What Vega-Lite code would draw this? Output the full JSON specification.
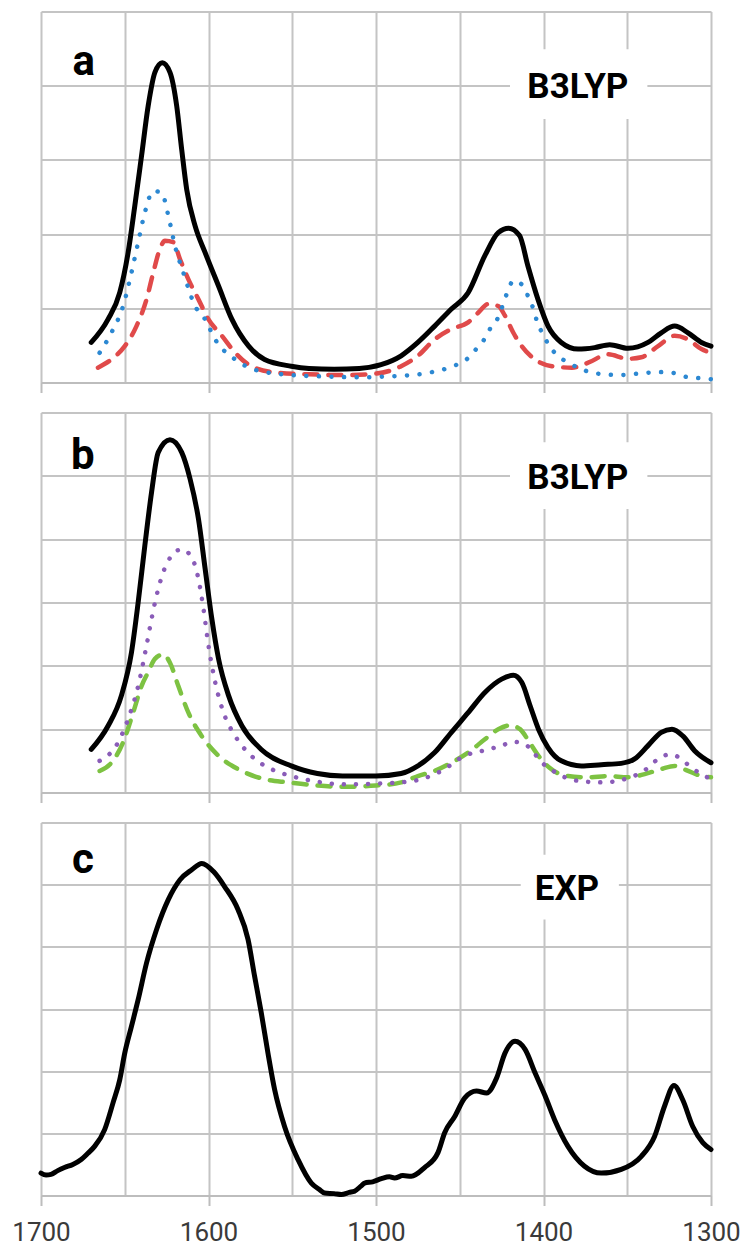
{
  "$schema": "https://vega.github.io/schema/vega-lite/v6.json",
  "background": "white",
  "padding": {"left": 11, "top": 11.5, "right": 0, "bottom": 0},
  "autosize": {"type": "pad"},
  "spacing": 30,
  "bounds": "flush",
  "config": {
    "view": {"stroke": null},
    "axis": {
      "gridColor": "#c4c4c4", "gridWidth": 2,
      "domainColor": "#bdbdbd", "domainWidth": 2,
      "tickColor": "#bdbdbd", "tickWidth": 2, "tickSize": 10,
      "title": null,
      "labelFont": "Roboto", "labelFontSize": 26, "labelColor": "#3a3a3a"
    },
    "text": {"font": "Roboto"}
  },
  "datasets": {
    "boxes": [
      {"panel": "a", "x": 1420, "x2": 1338, "y": 3.55, "y2": 4.49},
      {"panel": "b", "x": 1420, "x2": 1338, "y": 4.475, "y2": 5.53},
      {"panel": "c", "x": 1413.6, "x2": 1355, "y": 4.44, "y2": 5.48}
    ],
    "labels": [
      {"panel": "a", "kind": "letter", "x": 1674.5, "y": 4.15, "text": "a"},
      {"panel": "a", "kind": "method", "x": 1379.5, "y": 3.83, "text": "B3LYP"},
      {"panel": "b", "kind": "letter", "x": 1675, "y": 5.11, "text": "b"},
      {"panel": "b", "kind": "method", "x": 1379.5, "y": 4.79, "text": "B3LYP"},
      {"panel": "c", "kind": "letter", "x": 1675, "y": 5.19, "text": "c"},
      {"panel": "c", "kind": "method", "x": 1386, "y": 4.76, "text": "EXP"}
    ],
    "spec_a": [
      {"s": "total", "x": 1670, "y": 0.54}, {"s": "total", "x": 1660, "y": 0.85}, {"s": "total", "x": 1653, "y": 1.21},
      {"s": "total", "x": 1648, "y": 1.75}, {"s": "total", "x": 1644, "y": 2.38}, {"s": "total", "x": 1640, "y": 3.05},
      {"s": "total", "x": 1636, "y": 3.73}, {"s": "total", "x": 1632, "y": 4.18}, {"s": "total", "x": 1627.6, "y": 4.31},
      {"s": "total", "x": 1623, "y": 4.18}, {"s": "total", "x": 1619, "y": 3.73}, {"s": "total", "x": 1616, "y": 3.14},
      {"s": "total", "x": 1613, "y": 2.6}, {"s": "total", "x": 1608, "y": 2.11}, {"s": "total", "x": 1602, "y": 1.75},
      {"s": "total", "x": 1594, "y": 1.3}, {"s": "total", "x": 1586, "y": 0.85}, {"s": "total", "x": 1576, "y": 0.49},
      {"s": "total", "x": 1566.5, "y": 0.31}, {"s": "total", "x": 1550.6, "y": 0.22}, {"s": "total", "x": 1540, "y": 0.19},
      {"s": "total", "x": 1525, "y": 0.18}, {"s": "total", "x": 1510, "y": 0.19}, {"s": "total", "x": 1497, "y": 0.24},
      {"s": "total", "x": 1485, "y": 0.36}, {"s": "total", "x": 1475, "y": 0.54}, {"s": "total", "x": 1465, "y": 0.76},
      {"s": "total", "x": 1455, "y": 0.99}, {"s": "total", "x": 1445, "y": 1.21}, {"s": "total", "x": 1435, "y": 1.71},
      {"s": "total", "x": 1427, "y": 2.02}, {"s": "total", "x": 1420.8, "y": 2.08}, {"s": "total", "x": 1414.3, "y": 1.98},
      {"s": "total", "x": 1409.3, "y": 1.57}, {"s": "total", "x": 1403.3, "y": 1.12}, {"s": "total", "x": 1397.3, "y": 0.76},
      {"s": "total", "x": 1389.4, "y": 0.54}, {"s": "total", "x": 1379.4, "y": 0.45}, {"s": "total", "x": 1369.5, "y": 0.47},
      {"s": "total", "x": 1360.5, "y": 0.51}, {"s": "total", "x": 1349.6, "y": 0.46}, {"s": "total", "x": 1337.6, "y": 0.54},
      {"s": "total", "x": 1329.7, "y": 0.67}, {"s": "total", "x": 1321.7, "y": 0.76}, {"s": "total", "x": 1313.7, "y": 0.67},
      {"s": "total", "x": 1305.7, "y": 0.54}, {"s": "total", "x": 1300, "y": 0.49},

      {"s": "blue", "x": 1665, "y": 0.4}, {"s": "blue", "x": 1658, "y": 0.67}, {"s": "blue", "x": 1651, "y": 1.03},
      {"s": "blue", "x": 1646, "y": 1.48}, {"s": "blue", "x": 1642, "y": 1.89}, {"s": "blue", "x": 1638, "y": 2.29},
      {"s": "blue", "x": 1633, "y": 2.58}, {"s": "blue", "x": 1628, "y": 2.56}, {"s": "blue", "x": 1624, "y": 2.25},
      {"s": "blue", "x": 1620, "y": 1.84}, {"s": "blue", "x": 1615, "y": 1.48}, {"s": "blue", "x": 1608, "y": 1.03},
      {"s": "blue", "x": 1602, "y": 0.85}, {"s": "blue", "x": 1596, "y": 0.58}, {"s": "blue", "x": 1584, "y": 0.31},
      {"s": "blue", "x": 1570.5, "y": 0.16}, {"s": "blue", "x": 1550, "y": 0.1}, {"s": "blue", "x": 1530, "y": 0.08},
      {"s": "blue", "x": 1510, "y": 0.07}, {"s": "blue", "x": 1495, "y": 0.08}, {"s": "blue", "x": 1485, "y": 0.09},
      {"s": "blue", "x": 1469, "y": 0.13}, {"s": "blue", "x": 1454, "y": 0.22}, {"s": "blue", "x": 1446, "y": 0.31},
      {"s": "blue", "x": 1441, "y": 0.43}, {"s": "blue", "x": 1436, "y": 0.56}, {"s": "blue", "x": 1432, "y": 0.72},
      {"s": "blue", "x": 1427, "y": 0.88}, {"s": "blue", "x": 1422, "y": 1.19}, {"s": "blue", "x": 1418, "y": 1.37},
      {"s": "blue", "x": 1412, "y": 1.3}, {"s": "blue", "x": 1409, "y": 1.15}, {"s": "blue", "x": 1406, "y": 0.99},
      {"s": "blue", "x": 1403.7, "y": 0.81}, {"s": "blue", "x": 1400.3, "y": 0.65}, {"s": "blue", "x": 1396.4, "y": 0.49},
      {"s": "blue", "x": 1391.4, "y": 0.36}, {"s": "blue", "x": 1385.4, "y": 0.27}, {"s": "blue", "x": 1377.4, "y": 0.18},
      {"s": "blue", "x": 1370.4, "y": 0.13}, {"s": "blue", "x": 1354.6, "y": 0.1}, {"s": "blue", "x": 1338.6, "y": 0.13},
      {"s": "blue", "x": 1330.7, "y": 0.14}, {"s": "blue", "x": 1322.7, "y": 0.13}, {"s": "blue", "x": 1315.8, "y": 0.08},
      {"s": "blue", "x": 1307.8, "y": 0.06}, {"s": "blue", "x": 1300, "y": 0.045},

      {"s": "red", "x": 1666, "y": 0.2}, {"s": "red", "x": 1658, "y": 0.31}, {"s": "red", "x": 1650, "y": 0.49},
      {"s": "red", "x": 1643, "y": 0.76}, {"s": "red", "x": 1637, "y": 1.12}, {"s": "red", "x": 1633, "y": 1.48},
      {"s": "red", "x": 1629, "y": 1.8}, {"s": "red", "x": 1626, "y": 1.91}, {"s": "red", "x": 1621, "y": 1.89},
      {"s": "red", "x": 1617, "y": 1.66}, {"s": "red", "x": 1612, "y": 1.39}, {"s": "red", "x": 1606, "y": 1.12},
      {"s": "red", "x": 1600, "y": 0.85}, {"s": "red", "x": 1592, "y": 0.63}, {"s": "red", "x": 1584, "y": 0.4},
      {"s": "red", "x": 1574.5, "y": 0.22}, {"s": "red", "x": 1558.5, "y": 0.13}, {"s": "red", "x": 1540, "y": 0.11},
      {"s": "red", "x": 1520, "y": 0.1}, {"s": "red", "x": 1500, "y": 0.12}, {"s": "red", "x": 1485, "y": 0.22},
      {"s": "red", "x": 1475, "y": 0.36}, {"s": "red", "x": 1465, "y": 0.58}, {"s": "red", "x": 1455, "y": 0.72},
      {"s": "red", "x": 1445, "y": 0.81}, {"s": "red", "x": 1439, "y": 0.94}, {"s": "red", "x": 1432.8, "y": 1.06},
      {"s": "red", "x": 1427, "y": 1.03}, {"s": "red", "x": 1423, "y": 0.9}, {"s": "red", "x": 1418, "y": 0.67},
      {"s": "red", "x": 1413, "y": 0.49}, {"s": "red", "x": 1405, "y": 0.31}, {"s": "red", "x": 1395, "y": 0.22},
      {"s": "red", "x": 1383, "y": 0.2}, {"s": "red", "x": 1373, "y": 0.27}, {"s": "red", "x": 1361.5, "y": 0.38},
      {"s": "red", "x": 1349.6, "y": 0.32}, {"s": "red", "x": 1341.6, "y": 0.34}, {"s": "red", "x": 1331.6, "y": 0.49},
      {"s": "red", "x": 1321.7, "y": 0.63}, {"s": "red", "x": 1313.7, "y": 0.58}, {"s": "red", "x": 1305.7, "y": 0.45},
      {"s": "red", "x": 1300, "y": 0.4}
    ],
    "spec_b": [
      {"s": "total", "x": 1670, "y": 0.68}, {"s": "total", "x": 1660, "y": 1.05}, {"s": "total", "x": 1652, "y": 1.53},
      {"s": "total", "x": 1646, "y": 2.21}, {"s": "total", "x": 1642, "y": 3.0}, {"s": "total", "x": 1638, "y": 3.9},
      {"s": "total", "x": 1634, "y": 4.74}, {"s": "total", "x": 1630, "y": 5.37}, {"s": "total", "x": 1623, "y": 5.57},
      {"s": "total", "x": 1616, "y": 5.37}, {"s": "total", "x": 1611, "y": 4.95}, {"s": "total", "x": 1606, "y": 4.32},
      {"s": "total", "x": 1602, "y": 3.53}, {"s": "total", "x": 1598, "y": 2.74}, {"s": "total", "x": 1594, "y": 2.11},
      {"s": "total", "x": 1588, "y": 1.53}, {"s": "total", "x": 1580, "y": 1.05}, {"s": "total", "x": 1568.5, "y": 0.68},
      {"s": "total", "x": 1550.6, "y": 0.42}, {"s": "total", "x": 1535, "y": 0.3}, {"s": "total", "x": 1520, "y": 0.26},
      {"s": "total", "x": 1500, "y": 0.26}, {"s": "total", "x": 1485, "y": 0.3}, {"s": "total", "x": 1475, "y": 0.42},
      {"s": "total", "x": 1465, "y": 0.63}, {"s": "total", "x": 1455, "y": 0.95}, {"s": "total", "x": 1445, "y": 1.26},
      {"s": "total", "x": 1435, "y": 1.58}, {"s": "total", "x": 1425, "y": 1.79}, {"s": "total", "x": 1418, "y": 1.85},
      {"s": "total", "x": 1413, "y": 1.74}, {"s": "total", "x": 1408, "y": 1.37}, {"s": "total", "x": 1403, "y": 1.0},
      {"s": "total", "x": 1397.3, "y": 0.71}, {"s": "total", "x": 1389.4, "y": 0.5}, {"s": "total", "x": 1377.4, "y": 0.42},
      {"s": "total", "x": 1365.5, "y": 0.44}, {"s": "total", "x": 1353.6, "y": 0.46}, {"s": "total", "x": 1345.6, "y": 0.53},
      {"s": "total", "x": 1337.6, "y": 0.74}, {"s": "total", "x": 1329.7, "y": 0.95}, {"s": "total", "x": 1323.3, "y": 1.0},
      {"s": "total", "x": 1316.7, "y": 0.89}, {"s": "total", "x": 1309.8, "y": 0.66}, {"s": "total", "x": 1300, "y": 0.47},

      {"s": "purple", "x": 1665, "y": 0.5}, {"s": "purple", "x": 1654, "y": 0.79}, {"s": "purple", "x": 1648, "y": 1.16},
      {"s": "purple", "x": 1642, "y": 1.68}, {"s": "purple", "x": 1637, "y": 2.32}, {"s": "purple", "x": 1634, "y": 2.74},
      {"s": "purple", "x": 1631, "y": 3.11}, {"s": "purple", "x": 1627, "y": 3.48}, {"s": "purple", "x": 1622, "y": 3.74},
      {"s": "purple", "x": 1616, "y": 3.84}, {"s": "purple", "x": 1610, "y": 3.71}, {"s": "purple", "x": 1606, "y": 3.37},
      {"s": "purple", "x": 1603, "y": 2.9}, {"s": "purple", "x": 1600, "y": 2.32}, {"s": "purple", "x": 1596, "y": 1.74},
      {"s": "purple", "x": 1591, "y": 1.26}, {"s": "purple", "x": 1584, "y": 0.89}, {"s": "purple", "x": 1574.5, "y": 0.58},
      {"s": "purple", "x": 1562.5, "y": 0.37}, {"s": "purple", "x": 1550.6, "y": 0.26}, {"s": "purple", "x": 1535, "y": 0.17},
      {"s": "purple", "x": 1520, "y": 0.13}, {"s": "purple", "x": 1500, "y": 0.14}, {"s": "purple", "x": 1485, "y": 0.16},
      {"s": "purple", "x": 1473, "y": 0.21}, {"s": "purple", "x": 1461, "y": 0.34}, {"s": "purple", "x": 1447, "y": 0.58},
      {"s": "purple", "x": 1433, "y": 0.68}, {"s": "purple", "x": 1425, "y": 0.74}, {"s": "purple", "x": 1418, "y": 0.8},
      {"s": "purple", "x": 1411, "y": 0.76}, {"s": "purple", "x": 1405, "y": 0.6}, {"s": "purple", "x": 1400, "y": 0.45},
      {"s": "purple", "x": 1393, "y": 0.32}, {"s": "purple", "x": 1381, "y": 0.19}, {"s": "purple", "x": 1365.5, "y": 0.16},
      {"s": "purple", "x": 1351.6, "y": 0.21}, {"s": "purple", "x": 1343.6, "y": 0.29}, {"s": "purple", "x": 1337.6, "y": 0.39},
      {"s": "purple", "x": 1331.6, "y": 0.53}, {"s": "purple", "x": 1324.7, "y": 0.6}, {"s": "purple", "x": 1318.7, "y": 0.55},
      {"s": "purple", "x": 1311.7, "y": 0.39}, {"s": "purple", "x": 1305.7, "y": 0.29}, {"s": "purple", "x": 1300, "y": 0.21},

      {"s": "green", "x": 1665, "y": 0.34}, {"s": "green", "x": 1658, "y": 0.47}, {"s": "green", "x": 1651, "y": 0.79},
      {"s": "green", "x": 1645, "y": 1.26}, {"s": "green", "x": 1640, "y": 1.68}, {"s": "green", "x": 1636, "y": 1.9},
      {"s": "green", "x": 1632, "y": 2.11}, {"s": "green", "x": 1627, "y": 2.18}, {"s": "green", "x": 1623, "y": 2.05},
      {"s": "green", "x": 1618, "y": 1.68}, {"s": "green", "x": 1612, "y": 1.26}, {"s": "green", "x": 1604, "y": 0.89},
      {"s": "green", "x": 1594, "y": 0.58}, {"s": "green", "x": 1582.4, "y": 0.37}, {"s": "green", "x": 1566.5, "y": 0.21},
      {"s": "green", "x": 1552.5, "y": 0.16}, {"s": "green", "x": 1535, "y": 0.11}, {"s": "green", "x": 1520, "y": 0.09},
      {"s": "green", "x": 1500, "y": 0.11}, {"s": "green", "x": 1485, "y": 0.16}, {"s": "green", "x": 1475, "y": 0.26},
      {"s": "green", "x": 1465, "y": 0.34}, {"s": "green", "x": 1455, "y": 0.47}, {"s": "green", "x": 1445, "y": 0.63},
      {"s": "green", "x": 1435, "y": 0.84}, {"s": "green", "x": 1427, "y": 1.0}, {"s": "green", "x": 1420, "y": 1.06},
      {"s": "green", "x": 1414, "y": 1.0}, {"s": "green", "x": 1409, "y": 0.82}, {"s": "green", "x": 1403, "y": 0.58},
      {"s": "green", "x": 1396.4, "y": 0.39}, {"s": "green", "x": 1385.4, "y": 0.26}, {"s": "green", "x": 1373.4, "y": 0.24},
      {"s": "green", "x": 1361.5, "y": 0.26}, {"s": "green", "x": 1349.6, "y": 0.24}, {"s": "green", "x": 1339.6, "y": 0.29},
      {"s": "green", "x": 1329.7, "y": 0.37}, {"s": "green", "x": 1321.7, "y": 0.42}, {"s": "green", "x": 1313.7, "y": 0.34},
      {"s": "green", "x": 1305.7, "y": 0.26}, {"s": "green", "x": 1300, "y": 0.24}
    ],
    "spec_c": [
      {"x": 1700, "y": 0.36}, {"x": 1697, "y": 0.33}, {"x": 1694, "y": 0.34}, {"x": 1690, "y": 0.4},
      {"x": 1686, "y": 0.45}, {"x": 1681, "y": 0.5}, {"x": 1676, "y": 0.58}, {"x": 1672, "y": 0.68},
      {"x": 1668, "y": 0.79}, {"x": 1662, "y": 1.06}, {"x": 1657, "y": 1.49}, {"x": 1653, "y": 1.86},
      {"x": 1650, "y": 2.29}, {"x": 1646, "y": 2.72}, {"x": 1642, "y": 3.15}, {"x": 1637, "y": 3.74},
      {"x": 1631, "y": 4.28}, {"x": 1624, "y": 4.76}, {"x": 1617, "y": 5.08}, {"x": 1610, "y": 5.24},
      {"x": 1604, "y": 5.34}, {"x": 1597, "y": 5.21}, {"x": 1590.4, "y": 4.97}, {"x": 1582.4, "y": 4.6},
      {"x": 1576.4, "y": 4.12}, {"x": 1572.5, "y": 3.53}, {"x": 1568.5, "y": 2.94}, {"x": 1564.5, "y": 2.29},
      {"x": 1560.5, "y": 1.7}, {"x": 1554.6, "y": 1.11}, {"x": 1546.6, "y": 0.58}, {"x": 1538.6, "y": 0.2},
      {"x": 1534, "y": 0.1}, {"x": 1530.7, "y": 0.04}, {"x": 1525, "y": 0.03}, {"x": 1520.7, "y": 0.016},
      {"x": 1516, "y": 0.05}, {"x": 1512.8, "y": 0.07}, {"x": 1509, "y": 0.15}, {"x": 1506.8, "y": 0.2},
      {"x": 1502, "y": 0.22}, {"x": 1496.8, "y": 0.27}, {"x": 1492, "y": 0.3}, {"x": 1488.9, "y": 0.28},
      {"x": 1484, "y": 0.32}, {"x": 1478.9, "y": 0.31}, {"x": 1471, "y": 0.45}, {"x": 1463, "y": 0.69},
      {"x": 1459, "y": 1.01}, {"x": 1453, "y": 1.27}, {"x": 1447, "y": 1.57}, {"x": 1440, "y": 1.68},
      {"x": 1434, "y": 1.65}, {"x": 1428, "y": 1.89}, {"x": 1423, "y": 2.29}, {"x": 1417, "y": 2.48},
      {"x": 1411, "y": 2.35}, {"x": 1405, "y": 1.97}, {"x": 1399, "y": 1.6}, {"x": 1393.4, "y": 1.22},
      {"x": 1385.4, "y": 0.79}, {"x": 1375.5, "y": 0.47}, {"x": 1365.5, "y": 0.36}, {"x": 1353.6, "y": 0.42},
      {"x": 1341.6, "y": 0.63}, {"x": 1333.7, "y": 0.95}, {"x": 1327.7, "y": 1.44}, {"x": 1322.1, "y": 1.77},
      {"x": 1316.9, "y": 1.54}, {"x": 1310.9, "y": 1.11}, {"x": 1304.9, "y": 0.85}, {"x": 1300, "y": 0.74}
    ]
  },
  "vconcat": [
    {
      "width": 670, "height": 371,
      "encoding": {
        "x": {"field": "x", "type": "quantitative",
              "scale": {"domain": [1300, 1700], "reverse": true, "nice": false, "zero": false},
              "axis": {"values": [1700, 1650, 1600, 1550, 1500, 1450, 1400, 1350, 1300], "labels": false,
                       "tickOpacity": {"condition": {"test": "datum.value % 100 === 0", "value": 1}, "value": 0}}},
        "y": {"field": "y", "type": "quantitative",
              "scale": {"domain": [0, 5], "nice": false, "zero": false},
              "axis": {"values": [0, 1, 2, 3, 4, 5], "labels": false, "ticks": false, "domain": false}}
      },
      "layer": [
        {"data": {"name": "boxes"}, "transform": [{"filter": "datum.panel === 'a'"}],
         "mark": {"type": "rect", "fill": "white"},
         "encoding": {"x2": {"field": "x2"}, "y2": {"field": "y2"}}},
        {"data": {"name": "spec_a"}, "transform": [{"filter": "datum.s === 'red'"}],
         "mark": {"type": "line", "color": "#e04a4a", "strokeWidth": 4.5, "strokeDash": [13, 11], "strokeCap": "round", "interpolate": "monotone"}},
        {"data": {"name": "spec_a"}, "transform": [{"filter": "datum.s === 'blue'"}],
         "mark": {"type": "line", "color": "#2c88d2", "strokeWidth": 4.5, "strokeDash": [0.1, 12.5], "strokeCap": "round", "interpolate": "monotone"}},
        {"data": {"name": "spec_a"}, "transform": [{"filter": "datum.s === 'total'"}],
         "mark": {"type": "line", "color": "#000000", "strokeWidth": 5, "strokeCap": "round", "strokeJoin": "round", "interpolate": "monotone"}},
        {"data": {"name": "labels"}, "transform": [{"filter": "datum.panel === 'a' && datum.kind === 'letter'"}],
         "mark": {"type": "text", "fontSize": 42, "fontWeight": "bold", "color": "#000000", "align": "center", "baseline": "alphabetic"},
         "encoding": {"text": {"field": "text"}}},
        {"data": {"name": "labels"}, "transform": [{"filter": "datum.panel === 'a' && datum.kind === 'method'"}],
         "mark": {"type": "text", "fontSize": 35, "fontWeight": "bold", "color": "#000000", "align": "center", "baseline": "alphabetic"},
         "encoding": {"text": {"field": "text"}}}
      ]
    },
    {
      "width": 670, "height": 380,
      "encoding": {
        "x": {"field": "x", "type": "quantitative",
              "scale": {"domain": [1300, 1700], "reverse": true, "nice": false, "zero": false},
              "axis": {"values": [1700, 1650, 1600, 1550, 1500, 1450, 1400, 1350, 1300], "labels": false,
                       "tickOpacity": {"condition": {"test": "datum.value % 100 === 0", "value": 1}, "value": 0}}},
        "y": {"field": "y", "type": "quantitative",
              "scale": {"domain": [0, 6], "nice": false, "zero": false},
              "axis": {"values": [0, 1, 2, 3, 4, 5, 6], "labels": false, "ticks": false, "domain": false}}
      },
      "layer": [
        {"data": {"name": "boxes"}, "transform": [{"filter": "datum.panel === 'b'"}],
         "mark": {"type": "rect", "fill": "white"},
         "encoding": {"x2": {"field": "x2"}, "y2": {"field": "y2"}}},
        {"data": {"name": "spec_b"}, "transform": [{"filter": "datum.s === 'green'"}],
         "mark": {"type": "line", "color": "#7dc242", "strokeWidth": 4.5, "strokeDash": [13, 11], "strokeCap": "round", "interpolate": "monotone"}},
        {"data": {"name": "spec_b"}, "transform": [{"filter": "datum.s === 'purple'"}],
         "mark": {"type": "line", "color": "#8a5cb8", "strokeWidth": 4.5, "strokeDash": [0.1, 12], "strokeCap": "round", "interpolate": "monotone"}},
        {"data": {"name": "spec_b"}, "transform": [{"filter": "datum.s === 'total'"}],
         "mark": {"type": "line", "color": "#000000", "strokeWidth": 5, "strokeCap": "round", "strokeJoin": "round", "interpolate": "monotone"}},
        {"data": {"name": "labels"}, "transform": [{"filter": "datum.panel === 'b' && datum.kind === 'letter'"}],
         "mark": {"type": "text", "fontSize": 42, "fontWeight": "bold", "color": "#000000", "align": "center", "baseline": "alphabetic"},
         "encoding": {"text": {"field": "text"}}},
        {"data": {"name": "labels"}, "transform": [{"filter": "datum.panel === 'b' && datum.kind === 'method'"}],
         "mark": {"type": "text", "fontSize": 35, "fontWeight": "bold", "color": "#000000", "align": "center", "baseline": "alphabetic"},
         "encoding": {"text": {"field": "text"}}}
      ]
    },
    {
      "width": 670, "height": 373,
      "encoding": {
        "x": {"field": "x", "type": "quantitative",
              "scale": {"domain": [1300, 1700], "reverse": true, "nice": false, "zero": false},
              "axis": {"values": [1700, 1650, 1600, 1550, 1500, 1450, 1400, 1350, 1300], "labels": true,
                       "format": "d", "labelExpr": "datum.value % 100 === 0 ? datum.label : ''",
                       "labelPadding": 14, "labelOverlap": false, "labelFlush": false,
                       "tickOpacity": {"condition": {"test": "datum.value % 100 === 0", "value": 1}, "value": 0}}},
        "y": {"field": "y", "type": "quantitative",
              "scale": {"domain": [0, 6], "nice": false, "zero": false},
              "axis": {"values": [0, 1, 2, 3, 4, 5, 6], "labels": false, "ticks": false, "domain": false}}
      },
      "layer": [
        {"data": {"name": "boxes"}, "transform": [{"filter": "datum.panel === 'c'"}],
         "mark": {"type": "rect", "fill": "white"},
         "encoding": {"x2": {"field": "x2"}, "y2": {"field": "y2"}}},
        {"data": {"name": "spec_c"},
         "mark": {"type": "line", "color": "#000000", "strokeWidth": 5, "strokeCap": "round", "strokeJoin": "round", "interpolate": "monotone"}},
        {"data": {"name": "labels"}, "transform": [{"filter": "datum.panel === 'c' && datum.kind === 'letter'"}],
         "mark": {"type": "text", "fontSize": 42, "fontWeight": "bold", "color": "#000000", "align": "center", "baseline": "alphabetic"},
         "encoding": {"text": {"field": "text"}}},
        {"data": {"name": "labels"}, "transform": [{"filter": "datum.panel === 'c' && datum.kind === 'method'"}],
         "mark": {"type": "text", "fontSize": 35, "fontWeight": "bold", "color": "#000000", "align": "center", "baseline": "alphabetic"},
         "encoding": {"text": {"field": "text"}}}
      ]
    }
  ]
}
